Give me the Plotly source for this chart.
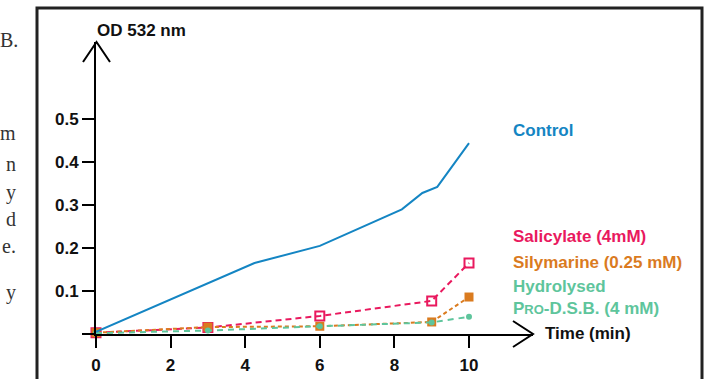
import plotly.graph_objects as go

# ---------------- data ----------------
control_x = [0, 4.25, 6, 8.2, 8.75, 9.15, 10]
control_y = [0.005, 0.165, 0.205, 0.29, 0.328, 0.342, 0.444]

time_x = [0, 3, 6, 9, 10]
salicylate_y = [0.003, 0.015, 0.042, 0.077, 0.165]
silymarine_y = [0.003, 0.016, 0.018, 0.028, 0.086]
hydrolysed_y = [0.002, 0.008, 0.018, 0.027, 0.040]

x_tickvals = [0, 2, 4, 6, 8, 10]
x_ticktext = ["0", "2", "4", "6", "8", "10"]
y_tickvals = [0, 0.1, 0.2, 0.3, 0.4, 0.5]
y_ticktext = ["", "0.1", "0.2", "0.3", "0.4", "0.5"]

series_names = ["Control", "Salicylate (4mM)", "Silymarine (0.25 mM)",
                "Hydrolysed<br>P<span style='font-size:13px'>RO</span>-D.S.B. (4 mM)"]
colors = ["#1485c3", "#e9195e", "#da7b1f", "#5ec59c"]
side_text = ["B.", "m", "n", "y", "d", "e.", "y"]

# ---------------- layout geometry ----------------
W, H = 710, 379
L, R, T, B = 96, 177, 42, 45
PW, PH = W - L - R, H - T - B


def px(p):  # pixel x -> paper x
    return (p - L) / PW


def py(p):  # pixel y -> paper y
    return (H - B - p) / PH


bold = dict(family="Liberation Sans, Arial, sans-serif", size=17, color="#111", weight="bold")

fig = go.Figure()

fig.add_trace(go.Scatter(x=time_x, y=salicylate_y, mode="lines+markers", cliponaxis=False,
                         line=dict(color=colors[1], width=2, dash="6px,4px"),
                         marker=dict(symbol="square-open", size=9, color=colors[1],
                                     line=dict(width=2, color=colors[1])),
                         showlegend=False))
fig.add_trace(go.Scatter(x=time_x, y=silymarine_y, mode="lines+markers", cliponaxis=False,
                         line=dict(color=colors[2], width=2, dash="4px,3px"),
                         marker=dict(symbol="square", size=9, color=colors[2]),
                         showlegend=False))
fig.add_trace(go.Scatter(x=time_x, y=hydrolysed_y, mode="lines+markers", cliponaxis=False,
                         line=dict(color=colors[3], width=2, dash="6px,5px"),
                         marker=dict(symbol="circle", size=6, color=colors[3]),
                         showlegend=False))
fig.add_trace(go.Scatter(x=control_x, y=control_y, mode="lines", cliponaxis=False,
                         line=dict(color=colors[0], width=2),
                         showlegend=False))

fig.update_layout(
    width=W, height=H,
    margin=dict(l=L, r=R, t=T, b=B, pad=0, autoexpand=False),
    paper_bgcolor="white", plot_bgcolor="white",
    hovermode=False,
    xaxis=dict(range=[0, PW / 37.3], showgrid=False, zeroline=False, automargin=False,
               showline=True, linecolor="black", linewidth=2,
               tickmode="array", tickvals=x_tickvals, ticktext=x_ticktext,
               ticks="outside", ticklen=12, tickwidth=2, tickcolor="black",
               ticklabelstandoff=3, tickfont=bold),
    yaxis=dict(range=[0, PH / 430.0], showgrid=False, zeroline=False, automargin=False,
               showline=True, linecolor="black", linewidth=2,
               tickmode="array", tickvals=y_tickvals, ticktext=y_ticktext,
               ticks="outside", ticklen=12, tickwidth=2, tickcolor="black",
               tickfont=bold),
)

shapes = []
# arrow heads
shapes.append(dict(type="path", xref="paper", yref="paper",
                   path=f"M {px(83)} {py(62)} L {px(96.5)} {py(42)} L {px(110)} {py(62)}",
                   line=dict(color="black", width=2)))
shapes.append(dict(type="path", xref="paper", yref="paper",
                   path=f"M {px(513)} {py(321)} L {px(533)} {py(334)} L {px(513)} {py(347)}",
                   line=dict(color="black", width=2)))
# frame
shapes.append(dict(type="rect", xref="paper", yref="paper",
                   x0=px(37), x1=px(702), y0=py(400), y1=py(8),
                   line=dict(color="#222222", width=3)))
fig.update_layout(shapes=shapes)

ann = []
ann.append(dict(text="OD 532 nm", x=px(95), y=py(30), xref="paper", yref="paper",
                xanchor="left", yanchor="middle", showarrow=False, font=bold))
ann.append(dict(text="Time (min)", x=px(543), y=py(333), xref="paper", yref="paper",
                xanchor="left", yanchor="middle", showarrow=False, font=bold))
label_y = [130, 236, 262, 297]
for name, c, yy in zip(series_names, colors, label_y):
    f = dict(bold)
    f["color"] = c
    ann.append(dict(text=name, x=px(511), y=py(yy), xref="paper", yref="paper",
                    xanchor="left", yanchor="middle", align="left", showarrow=False, font=f))
side_y = [40, 133, 164, 192, 219, 246, 292]
for t, yy in zip(side_text, side_y):
    ann.append(dict(text=t, x=px(20 if t == "B." else 18), y=py(yy), xref="paper", yref="paper",
                    xanchor="right", yanchor="middle", showarrow=False,
                    font=dict(family="Liberation Serif, Times New Roman, serif", size=20, color="#333")))
fig.update_layout(annotations=ann)

fig.write_html("out.html", config={"displayModeBar": False, "staticPlot": True},
               post_script="document.body.style.margin='0';document.body.style.overflow='hidden';")
